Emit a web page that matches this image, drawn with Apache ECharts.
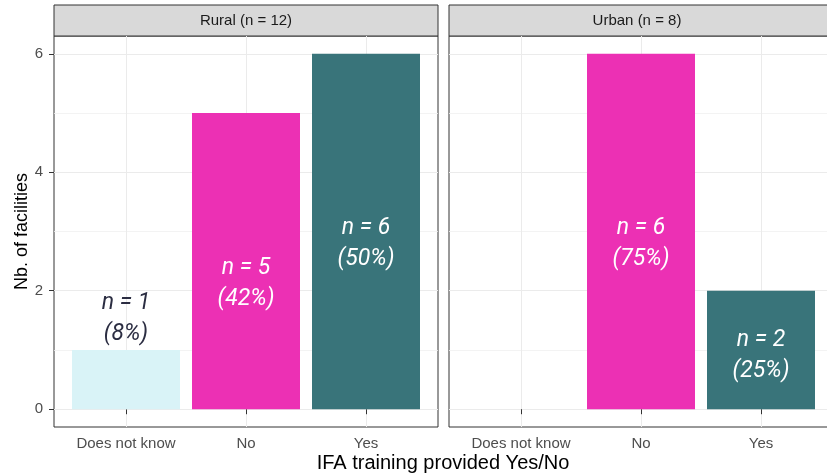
<!DOCTYPE html>
<html>
<head>
<meta charset="utf-8">
<script src="https://cdn.jsdelivr.net/npm/echarts@6/dist/echarts.min.js"></script>
<style>
    html, body { margin: 0; padding: 0; background: #fff; }
    #main { width: 827px; height: 474px; }
</style>
</head>
<body>
<div id="main"></div>
<script>
// data
var categories = ['Does not know', 'No', 'Yes'];
var panels = ['Rural (n = 12)', 'Urban (n = 8)'];
var rural = [1, 5, 6];
var urban = [null, 6, 2];
var ruralPct = ['8%', '42%', '50%'];
var urbanPct = [null, '75%', '25%'];
// where each "n = .. (..%)" label sits, in axis units
var ruralLabelY = [1.52, 2.11, 2.79];
var urbanLabelY = [null, 2.8, 0.91];
var yTicks = [0, 2, 4, 6];
var yMinor = [1, 3, 5];
var barColors = ['#d9f3f7', '#ec30b4', '#39747a'];
var labelColors = ['#2b2d42', '#ffffff', '#ffffff'];

var panelLeft = [54, 449];
var panelW = 384;
var sans = 'Arial, Liberation Sans';

function barData(vals) {
    var res = [];
    for (var i = 0; i < vals.length; i++) {
        if (vals[i] == null) continue;
        res.push({ value: [i + 1, vals[i]], itemStyle: { color: barColors[i] } });
    }
    return res;
}

function labelData(vals, pos, pct) {
    var res = [];
    for (var i = 0; i < vals.length; i++) {
        if (vals[i] == null) continue;
        res.push({
            value: [i + 1, pos[i]],
            label: {
                formatter: 'n = ' + vals[i] + '\n(' + pct[i] + ')',
                color: labelColors[i]
            }
        });
    }
    return res;
}

var grids = [], xAxes = [], yAxes = [], series = [], graphics = [];
for (var p = 0; p < 2; p++) {
    grids.push({
        left: panelLeft[p], top: 36, width: panelW, height: 391,
        outerBoundsMode: 'none', containLabel: false,
        show: true, borderColor: '#333', borderWidth: 1, backgroundColor: 'transparent'
    });
    xAxes.push({
        type: 'value', gridIndex: p, min: 0.4, max: 3.6,
        axisLine: { show: false },
        axisTick: { show: true, length: 5, customValues: [1, 2, 3], lineStyle: { color: '#333' } },
        axisLabel: {
            customValues: [1, 2, 3], margin: 9, fontSize: 15, color: '#4d4d4d', fontFamily: sans,
            formatter: function (v) { return categories[Math.round(v) - 1]; }
        },
        splitLine: { show: true, lineStyle: { color: '#ebebeb', width: 1 } }
    });
    // major y axis
    yAxes.push({
        type: 'value', gridIndex: p, min: -0.3, max: 6.3,
        name: p === 0 ? 'Nb. of facilities' : '',
        nameLocation: 'middle', nameGap: 23, nameRotate: 90,
        nameTextStyle: { fontSize: 18, color: '#000', fontFamily: sans },
        axisLine: { show: false },
        axisTick: { show: p === 0, length: 5, customValues: yTicks, lineStyle: { color: '#333' } },
        axisLabel: { show: p === 0, customValues: yTicks, margin: 11, fontSize: 15, color: '#4d4d4d', fontFamily: sans },
        splitLine: { show: true, lineStyle: { color: '#ebebeb', width: 1 } }
    });
    // minor grid lines
    yAxes.push({
        type: 'value', gridIndex: p, min: -0.3, max: 6.3, position: 'left',
        axisLine: { show: false },
        axisTick: { show: false, customValues: yMinor },
        axisLabel: { show: false, customValues: yMinor },
        splitLine: { show: true, lineStyle: { color: '#f0f0f0', width: 0.8 } }
    });

    var vals = p === 0 ? rural : urban;
    series.push({
        type: 'bar', xAxisIndex: p, yAxisIndex: p * 2,
        barWidth: 108,
        data: barData(vals)
    });
    series.push({
        type: 'scatter', xAxisIndex: p, yAxisIndex: p * 2,
        symbolSize: 0, silent: true, z: 5,
        itemStyle: { opacity: 1 },
        label: {
            show: true, position: 'inside', fontFamily: 'Roboto', fontStyle: 'italic',
            fontSize: 23, lineHeight: 31, align: 'center', verticalAlign: 'middle'
        },
        data: labelData(vals, p === 0 ? ruralLabelY : urbanLabelY, p === 0 ? ruralPct : urbanPct)
    });

    // facet strip
    graphics.push({
        type: 'rect', shape: { x: panelLeft[p], y: 5, width: panelW, height: 31 },
        style: { fill: '#d9d9d9', stroke: '#333', lineWidth: 1 }
    });
    graphics.push({
        type: 'text', x: p === 0 ? 246 : 637, y: 21,
        style: { text: panels[p], fill: '#1a1a1a', fontSize: 15, fontFamily: sans, textAlign: 'center', textVerticalAlign: 'middle' }
    });
}

graphics.push({
    type: 'text', x: 443, y: 463,
    style: { text: 'IFA training provided Yes/No', fill: '#000', fontSize: 20, fontFamily: sans, textAlign: 'center', textVerticalAlign: 'middle' }
});

var myChart = echarts.init(document.getElementById('main'));
var option = {
    animation: false,
    backgroundColor: '#fff',
    grid: grids,
    xAxis: xAxes,
    yAxis: yAxes,
    series: series,
    graphic: graphics
};
myChart.setOption(option, true);
</script>
</body>
</html>
